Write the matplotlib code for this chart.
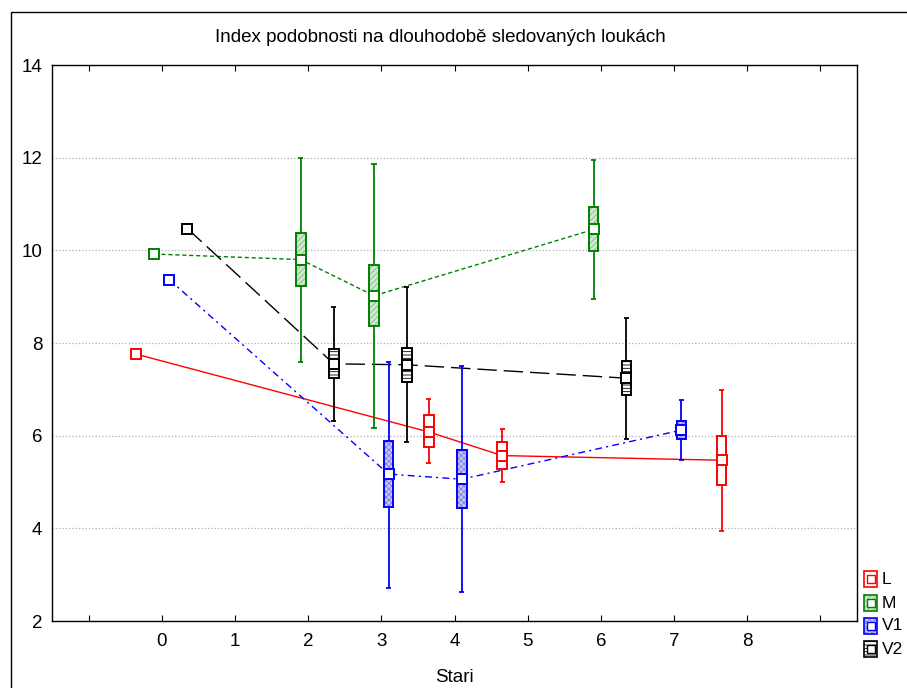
import numpy as np
import matplotlib
matplotlib.use("Agg")
import matplotlib.pyplot as plt
from matplotlib.patches import Rectangle

plt.rcParams['font.family'] = ['Liberation Sans', 'DejaVu Sans']
plt.rcParams['hatch.linewidth'] = 0.6

# x position of each category for every series (Statistica offsets groups)
series_names = ['L', 'M', 'V1', 'V2']
series_colors = ['#ff0000', '#008000', '#0000ff', '#000000']
series_offsets = [-0.35, -0.1, 0.1, 0.35]

L_stari = [0, 4, 5, 8]
L_mean = [7.76, 6.08, 5.57, 5.47]
L_box_lo = [np.nan, 5.76, 5.28, 4.93]
L_box_hi = [np.nan, 6.45, 5.86, 6.00]
L_wh_lo = [np.nan, 5.41, 4.99, 3.95]
L_wh_hi = [np.nan, 6.79, 6.14, 6.99]

M_stari = [0, 2, 3, 6]
M_mean = [9.92, 9.80, 9.02, 10.45]
M_box_lo = [np.nan, 9.23, 8.37, 9.98]
M_box_hi = [np.nan, 10.37, 9.68, 10.93]
M_wh_lo = [np.nan, 7.60, 6.17, 8.96]
M_wh_hi = [np.nan, 12.00, 11.87, 11.95]

V1_stari = [0, 3, 4, 7]
V1_mean = [9.37, 5.17, 5.06, 6.12]
V1_box_lo = [np.nan, 4.45, 4.43, 5.92]
V1_box_hi = [np.nan, 5.89, 5.69, 6.32]
V1_wh_lo = [np.nan, 2.72, 2.62, 5.47]
V1_wh_hi = [np.nan, 7.60, 7.50, 6.77]

V2_stari = [0, 2, 3, 6]
V2_mean = [10.47, 7.55, 7.53, 7.24]
V2_box_lo = [np.nan, 7.24, 7.15, 6.87]
V2_box_hi = [np.nan, 7.86, 7.90, 7.61]
V2_wh_lo = [np.nan, 6.32, 5.86, 5.93]
V2_wh_hi = [np.nan, 8.77, 9.20, 8.55]

x_ticks = list(range(-1, 10))
x_labels = ['', '0', '1', '2', '3', '4', '5', '6', '7', '8', '']
y_ticks = [2, 4, 6, 8, 10, 12, 14]

data = [
    (L_stari, L_mean, L_box_lo, L_box_hi, L_wh_lo, L_wh_hi),
    (M_stari, M_mean, M_box_lo, M_box_hi, M_wh_lo, M_wh_hi),
    (V1_stari, V1_mean, V1_box_lo, V1_box_hi, V1_wh_lo, V1_wh_hi),
    (V2_stari, V2_mean, V2_box_lo, V2_box_hi, V2_wh_lo, V2_wh_hi),
]

# box fill styles: (facecolor, hatch, hatch colour)
fills = [
    ('white', None, None),
    ('#cfe8cf', '//////', '#7fbf7f'),
    ('#c8c8f4', 'xxxxxx', '#8080e0'),
    ('white', '-----', '#000000'),
]
dashes = [None, (3, 2), (5, 3, 1.5, 3), (14, 5)]
fsize = 13.5

fig = plt.figure(figsize=(9.07, 6.88), dpi=100)
ax = fig.add_axes([52 / 907, 1 - 621 / 688, (857 - 52) / 907, (621 - 65) / 688])

box_w = 0.13
cap_w = 0.035
for i, (stari, mean, blo, bhi, wlo, whi) in enumerate(data):
    col = series_colors[i]
    xs = np.array(stari) + series_offsets[i]
    line, = ax.plot(xs, mean, color=col, lw=1.0, zorder=2)
    if dashes[i] is not None:
        line.set_dashes(dashes[i])
    fc, hatch, hcol = fills[i]
    for x, m, b0, b1, w0, w1 in zip(xs, mean, blo, bhi, wlo, whi):
        if np.isnan(b0):
            continue
        ax.vlines(x, w0, w1, color=col, lw=1.3, zorder=3)
        ax.hlines([w0, w1], x - cap_w, x + cap_w, color=col, lw=1.3, zorder=3)
        ax.add_patch(Rectangle((x - box_w / 2, b0), box_w, b1 - b0,
                               facecolor=fc, edgecolor=hcol if hatch else col,
                               hatch=hatch, lw=0, zorder=4))
        ax.add_patch(Rectangle((x - box_w / 2, b0), box_w, b1 - b0,
                               facecolor='none', edgecolor=col, lw=1.4, zorder=4.5))
    ax.plot(xs, mean, ls='none', marker='s', ms=7.5, mfc='white', mec=col,
            mew=1.4, zorder=5)

ax.set_xlim(-1.5, 9.5)
ax.set_ylim(2, 14)
ax.set_xticks(x_ticks)
ax.set_xticklabels(x_labels)
ax.set_yticks(y_ticks)
ax.tick_params(axis='x', direction='in', length=4, top=True, labelsize=fsize, pad=9)
ax.tick_params(axis='y', length=0, labelsize=fsize, pad=7)
ax.yaxis.grid(True, color='#b0b0b0', ls=':', lw=0.9)
for sp in ax.spines.values():
    sp.set_linewidth(1.0)
ax.set_xlabel('Stari', fontsize=fsize, labelpad=13)

fig.text(440 / 907, 1 - 38 / 688, 'Index podobnosti na dlouhodobě sledovaných loukách',
         ha='center', va='center', fontsize=fsize)

# outer frame
fig.add_artist(Rectangle((11 / 907, -0.1), 1.2, 1 - 12 / 688 + 0.1,
                         transform=fig.transFigure, facecolor='none',
                         edgecolor='black', lw=1.0))

# legend drawn by hand outside the axes
leg_y = [579, 603, 626, 649]
for i, name in enumerate(series_names):
    col = series_colors[i]
    fc, hatch, hcol = fills[i]
    yc = 1 - leg_y[i] / 688
    w = 13 / 907
    h = 16 / 688
    x0 = 864 / 907
    fig.add_artist(Rectangle((x0, yc - h / 2), w, h, transform=fig.transFigure,
                             facecolor=fc, edgecolor=hcol if hatch else col,
                             hatch=hatch, lw=0))
    fig.add_artist(Rectangle((x0, yc - h / 2), w, h, transform=fig.transFigure,
                             facecolor='none', edgecolor=col, lw=1.2))
    s = 8 / 907
    sh = 8 / 688
    fig.add_artist(Rectangle((x0 + w / 2 - s / 2, yc - sh / 2), s, sh,
                             transform=fig.transFigure, facecolor='white',
                             edgecolor=col, lw=1.0))
    fig.text(882 / 907, yc, name, ha='left', va='center', fontsize=12.5)

fig.savefig('out.png', dpi=100)
